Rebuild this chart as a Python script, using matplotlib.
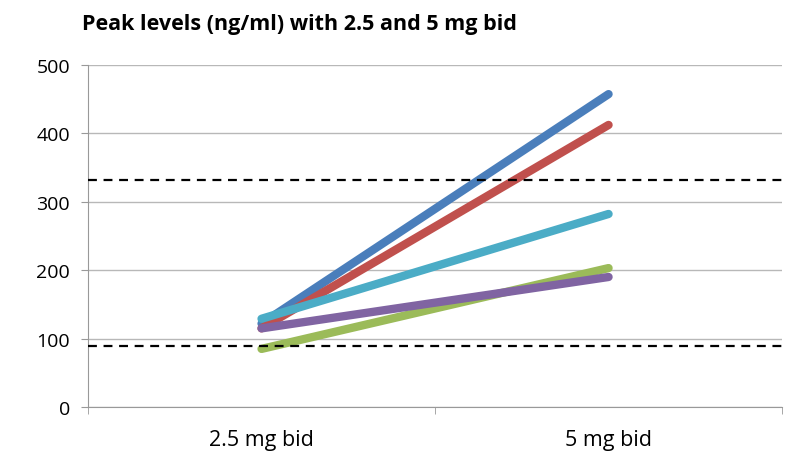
import matplotlib
matplotlib.use("Agg")
import matplotlib.pyplot as plt

doses = ["2.5 mg bid", "5 mg bid"]
blue = [122, 457]
red = [115, 412]
cyan = [129, 282]
purple = [115, 190]
green = [85, 203]
limits = [331, 89]

series = [(blue, "#4a7ebb"), (red, "#c0504d"), (cyan, "#4bacc6"),
          (green, "#9bbb59"), (purple, "#8064a2")]

plt.rcParams["font.family"] = ["Open Sans", "DejaVu Sans"]

fig = plt.figure(figsize=(7.86, 4.56), dpi=100)
ax = fig.add_axes([0.112, 0.105, 0.883, 0.751])

for vals, col in series:
    ax.plot([0, 1], vals, color=col, lw=6, solid_capstyle="round", zorder=3)

for y in limits:
    ax.axhline(y, color="black", ls=(0, (4, 3)), lw=1.6, zorder=4)

ax.set_xlim(-0.5, 1.5)
ax.set_ylim(0, 500)
ax.set_yticks(range(0, 501, 100))
ax.set_xticks([0, 1])
ax.set_xticklabels(doses)
ax.set_xticks([-0.5, 0.5, 1.5], minor=True)
ax.tick_params(axis="x", which="major", length=0, pad=16, labelsize=15.5)
ax.tick_params(axis="x", which="minor", length=5, color="#999999")
ax.tick_params(axis="y", length=5, color="#999999", labelsize=14, pad=8)
ax.grid(axis="y", color="#b8b8b8", lw=1)
ax.set_axisbelow(True)
for s in ["top", "right"]:
    ax.spines[s].set_visible(False)
for s in ["left", "bottom"]:
    ax.spines[s].set_color("#999999")

fig.text(0.104, 0.935, "Peak levels (ng/ml) with 2.5 and 5 mg bid",
         fontsize=15.5, fontweight="bold")

fig.savefig("out.png", dpi=100)
